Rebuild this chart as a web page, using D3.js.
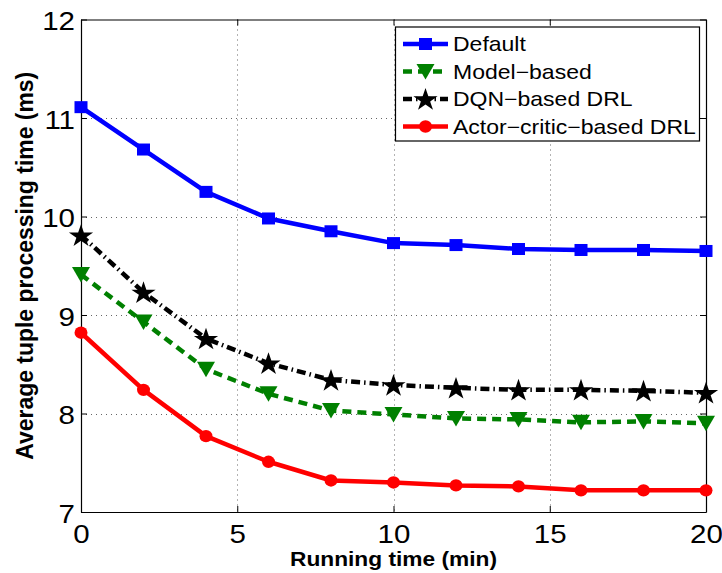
<!DOCTYPE html>
<html>
<head>
<meta charset="utf-8">
<script src="https://cdn.jsdelivr.net/npm/d3@7"></script>
<style>
  html, body { margin: 0; padding: 0; background: #fff; }
  svg { display: block; font-family: "Liberation Sans", Arial, Helvetica, sans-serif; }
</style>
</head>
<body>
<script>
// Running time (minutes) sampled every 2 min
const times = [0, 2, 4, 6, 8, 10, 12, 14, 16, 18, 20];

// Average tuple processing time (ms) for each scheduling approach
const defaultVals = [11.11, 10.68, 10.25, 9.98, 9.85, 9.73, 9.71, 9.67, 9.66, 9.66, 9.65];
const modelVals   = [9.41, 8.93, 8.45, 8.20, 8.03, 7.99, 7.95, 7.94, 7.91, 7.92, 7.90];
const dqnVals     = [9.81, 9.23, 8.76, 8.51, 8.34, 8.29, 8.26, 8.24, 8.24, 8.23, 8.21];
const actorVals   = [8.82, 8.24, 7.77, 7.51, 7.32, 7.30, 7.27, 7.26, 7.22, 7.22, 7.22];

const seriesNames = ["Default", "Model\u2212based", "DQN\u2212based DRL", "Actor\u2212critic\u2212based DRL"];

// Axis ticks
const xTicks = [0, 5, 10, 15, 20];
const yTicks = [7, 8, 9, 10, 11, 12];
const xLabel = "Running time (min)";
const yLabel = "Average tuple processing time (ms)";

// ---- drawing styles ----
const styles = [
  { color: "#0000ff", dash: null,              marker: "square" },
  { color: "#008000", dash: "9,6",             marker: "triangle" },
  { color: "#000000", dash: "9,4,1.5,4",       marker: "star" },
  { color: "#ff0000", dash: null,              marker: "circle" }
];
const seriesVals = [defaultVals, modelVals, dqnVals, actorVals];

const W = 722, H = 573;
const plot = { left: 81, right: 706, top: 19.5, bottom: 512 };

const svg = d3.select("body").append("svg")
  .attr("width", W).attr("height", H);

const x = d3.scaleLinear().domain([0, 20]).range([plot.left, plot.right]);
const y = d3.scaleLinear().domain([7, 12]).range([plot.bottom, plot.top]);

// Dotted grid
const grid = svg.append("g")
  .attr("stroke", "#666").attr("stroke-width", 1).attr("stroke-dasharray", "1,4");
grid.selectAll("line.gx").data(xTicks.filter(t => t > 0 && t < 20)).join("line")
  .attr("class", "gx")
  .attr("x1", d => Math.round(x(d)) + 0.5).attr("x2", d => Math.round(x(d)) + 0.5)
  .attr("y1", plot.top).attr("y2", plot.bottom);
grid.selectAll("line.gy").data(yTicks.filter(t => t > 7 && t < 12)).join("line")
  .attr("class", "gy")
  .attr("y1", d => Math.round(y(d)) + 0.5).attr("y2", d => Math.round(y(d)) + 0.5)
  .attr("x1", plot.left).attr("x2", plot.right);

// Axes (box with inward ticks on all sides)
const tick = 6;
const axB = svg.append("g").attr("transform", `translate(0,${plot.bottom})`)
  .call(d3.axisBottom(x).tickValues(xTicks).tickFormat(d3.format("d"))
    .tickSizeInner(-tick).tickSizeOuter(0));
const axT = svg.append("g").attr("transform", `translate(0,${plot.top})`)
  .call(d3.axisTop(x).tickValues(xTicks).tickFormat("")
    .tickSizeInner(-tick).tickSizeOuter(0));
const axL = svg.append("g").attr("transform", `translate(${plot.left},0)`)
  .call(d3.axisLeft(y).tickValues(yTicks).tickFormat(d3.format("d"))
    .tickSizeInner(-tick).tickSizeOuter(0));
const axR = svg.append("g").attr("transform", `translate(${plot.right},0)`)
  .call(d3.axisRight(y).tickValues(yTicks).tickFormat("")
    .tickSizeInner(-tick).tickSizeOuter(0));

[axB, axT, axL, axR].forEach(g => {
  g.select(".domain").attr("stroke", "#000").attr("stroke-width", 1.2);
  g.selectAll(".tick line").attr("stroke", "#000").attr("stroke-width", 1);
});

axB.selectAll(".tick text")
  .attr("y", 31).attr("dy", null)
  .attr("font-size", 25).attr("fill", "#000")
  .attr("font-family", "Liberation Sans, Arial, sans-serif")
  .attr("transform", "scale(1.18,1)");
axL.selectAll(".tick text")
  .attr("x", 0).attr("dy", null).attr("y", 10)
  .attr("font-size", 25).attr("fill", "#000")
  .attr("font-family", "Liberation Sans, Arial, sans-serif")
  .attr("transform", "translate(-6,0) scale(1.18,1)");

// Axis titles
svg.append("text")
  .attr("x", (plot.left + plot.right) / 2).attr("y", 566)
  .attr("text-anchor", "middle")
  .attr("font-size", 20).attr("font-weight", "bold")
  .attr("textLength", 207).attr("lengthAdjust", "spacingAndGlyphs")
  .text(xLabel);
svg.append("text")
  .attr("transform", `translate(33.3,${(plot.top + plot.bottom) / 2}) rotate(-90)`)
  .attr("text-anchor", "middle")
  .attr("font-size", 23).attr("font-weight", "bold")
  .attr("textLength", 388).attr("lengthAdjust", "spacingAndGlyphs")
  .text(yLabel);

// Marker drawing
const starPath = d3.symbol(d3.symbolStar, 162)();
function drawMarker(g, kind, color) {
  if (kind === "square") {
    g.append("rect").attr("x", -6.5).attr("y", -6).attr("width", 13).attr("height", 12)
      .attr("fill", color);
  } else if (kind === "triangle") {
    g.append("path").attr("d", "M-9,-7.5L9,-7.5L0,8Z").attr("fill", color);
  } else if (kind === "star") {
    g.append("path").attr("d", starPath).attr("fill", color)
      .attr("transform", "translate(0,1) scale(1.06,1)");
  } else if (kind === "circle") {
    g.append("ellipse").attr("rx", 6.5).attr("ry", 6.2).attr("fill", color);
  }
}

const line = d3.line().x((d, i) => x(times[i])).y(d => y(d));

seriesVals.forEach((vals, si) => {
  const st = styles[si];
  const g = svg.append("g");
  g.append("path").datum(vals)
    .attr("d", line)
    .attr("fill", "none")
    .attr("stroke", st.color)
    .attr("stroke-width", 4.5)
    .attr("stroke-linejoin", "round")
    .attr("stroke-dasharray", st.dash);
  g.selectAll("g.m").data(vals).join("g")
    .attr("class", "m")
    .attr("transform", (d, i) => `translate(${x(times[i])},${y(d)})`)
    .each(function () { drawMarker(d3.select(this), st.marker, st.color); });
});

// Legend
const leg = svg.append("g");
leg.append("rect")
  .attr("x", 395.5).attr("y", 27).attr("width", 304).attr("height", 114)
  .attr("fill", "#fff").attr("stroke", "#000").attr("stroke-width", 1.2);
const rowY = [44, 71.5, 99, 126.5];
seriesNames.forEach((name, i) => {
  const st = styles[i];
  const r = leg.append("g").attr("transform", `translate(0,${rowY[i]})`);
  r.append("line").attr("x1", 403).attr("x2", 448).attr("y1", 0).attr("y2", 0)
    .attr("stroke", st.color).attr("stroke-width", 4.5)
    .attr("stroke-dasharray", st.dash);
  drawMarker(r.append("g").attr("transform", "translate(425.5,0)"), st.marker, st.color);
  r.append("text")
    .attr("transform", "translate(453,7.2) scale(1.15,1)")
    .attr("font-size", 20).attr("fill", "#000")
    .text(name);
});
</script>
</body>
</html>
